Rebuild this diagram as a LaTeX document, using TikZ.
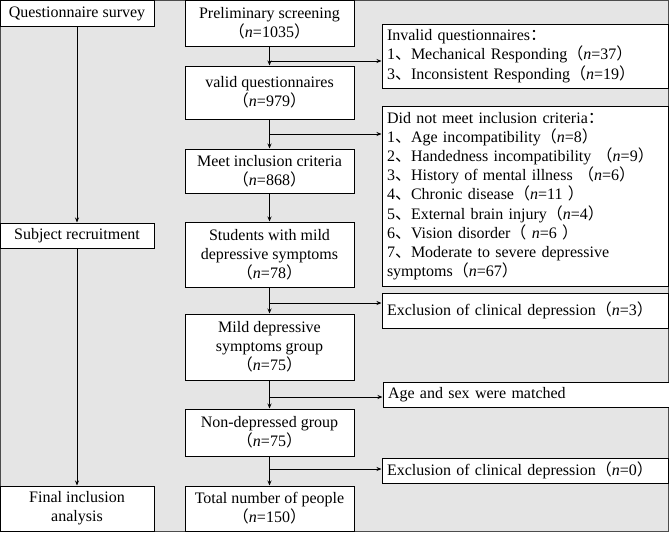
\documentclass[tikz,border=0pt]{standalone}
\usepackage{fontspec}
\setmainfont{Liberation Serif}
\newfontfamily\cjk{Noto Sans CJK SC}
\usetikzlibrary{arrows.meta,positioning,calc}
\newcommand{\zl}{{\cjk （}}
\newcommand{\zr}{{\cjk ）}}
\newcommand{\zd}{{\cjk 、}}
\newcommand{\zc}{{\cjk ：}}
\newcommand{\nn}{\textit{n}=}

\begin{document}
\begin{tikzpicture}[
  x=1pt, y=-1pt,
  font=\fontsize{16}{19.2}\selectfont, >={Stealth[length=5pt, width=4pt]},
  line width=1pt,
  lbox/.style={draw, fill=white, minimum width=154pt, inner sep=2pt, align=center},
  mbox/.style={draw, fill=white, minimum width=169pt, inner sep=2pt, align=center},
  rbox/.style={draw, fill=white, text width=276pt, inner xsep=5pt, inner ysep=2pt, align=left},
]
% frame
\useasboundingbox (0,0) rectangle (669,533);
\draw[black!70, fill=black!10] (0.5,0.5) rectangle (668,531);

% left column
\node[lbox, minimum height=26pt] (qs) at (77,13.5) {Questionnaire survey};
\node[lbox, minimum height=25pt] (sr) at (77,235.5) {Subject recruitment};
\node[lbox, minimum height=45pt] (fi) at (77,508.5) {Final inclusion\\analysis};

% middle column
\node[mbox, minimum height=46pt] (p1) at (269.5,23.5) {Preliminary screening\\\zl\nn1035\zr};
\node[mbox, minimum height=53pt] (p2) at (269.5,92.5) {valid questionnaires\\\zl\nn979\zr};
\node[mbox, minimum height=44pt] (p3) at (269.5,171) {Meet inclusion criteria\\\zl\nn868\zr};
\node[mbox, minimum height=65pt] (p4) at (269.5,254.5) {Students with mild\\depressive symptoms\\\zl\nn78\zr};
\node[mbox, minimum height=66pt] (p5) at (269.5,347) {Mild depressive\\symptoms group\\\zl\nn75\zr};
\node[mbox, minimum height=47pt] (p6) at (269.5,432.5) {Non-depressed group\\\zl\nn75\zr};
\node[mbox, minimum height=45pt] (p7) at (269.5,508.5) {Total number of people\\\zl\nn150\zr};

% right column
\node[rbox, minimum height=64pt] (e1) at (525,56) {Invalid questionnaires\zc\\
  1\zd Mechanical Responding\zl\nn37\zr\\
  3\zd Inconsistent Responding\zl\nn19\zr};
\node[rbox, minimum height=180pt] (e2) at (525,196) {Did not meet inclusion criteria\zc\\
  1\zd Age incompatibility\zl\nn8\zr\\
  2\zd Handedness incompatibility \zl\nn9\zr\\
  3\zd History of mental illness \zl\nn6\zr\\
  4\zd Chronic disease\zl\nn11 \zr\\
  5\zd External brain injury\zl\nn4\zr\\
  6\zd Vision disorder\zl\ \nn6 \zr\\
  7\zd Moderate to severe depressive\\
  symptoms\zl\nn67\zr};
\node[rbox, minimum height=35pt] (e3) at (525,310.5) {Exclusion of clinical depression\zl\nn3\zr};
\node[rbox, minimum height=25pt] (e4) at (526,394.5) {Age and sex were matched};
\node[rbox, minimum height=25pt] (e5) at (525,470.5) {Exclusion of clinical depression\zl\nn0\zr};

% connectors
\draw[->] (qs) -- (sr);
\draw[->] (sr) -- (fi);
\foreach \a/\b in {p1/p2, p2/p3, p3/p4, p4/p5, p5/p6, p6/p7}
  {\draw[->] (\a) -- (\b);}
\coordinate (b1) at (269.5,61);
\coordinate (b2) at (269.5,134);
\coordinate (b3) at (269.5,303);
\coordinate (b4) at (269.5,397);
\coordinate (b5) at (269.5,469);
\foreach \b/\e in {b1/e1, b2/e2, b3/e3, b4/e4, b5/e5}
  {\draw[->] (\b) -- (\b -| \e.west);}
\end{tikzpicture}
\end{document}
